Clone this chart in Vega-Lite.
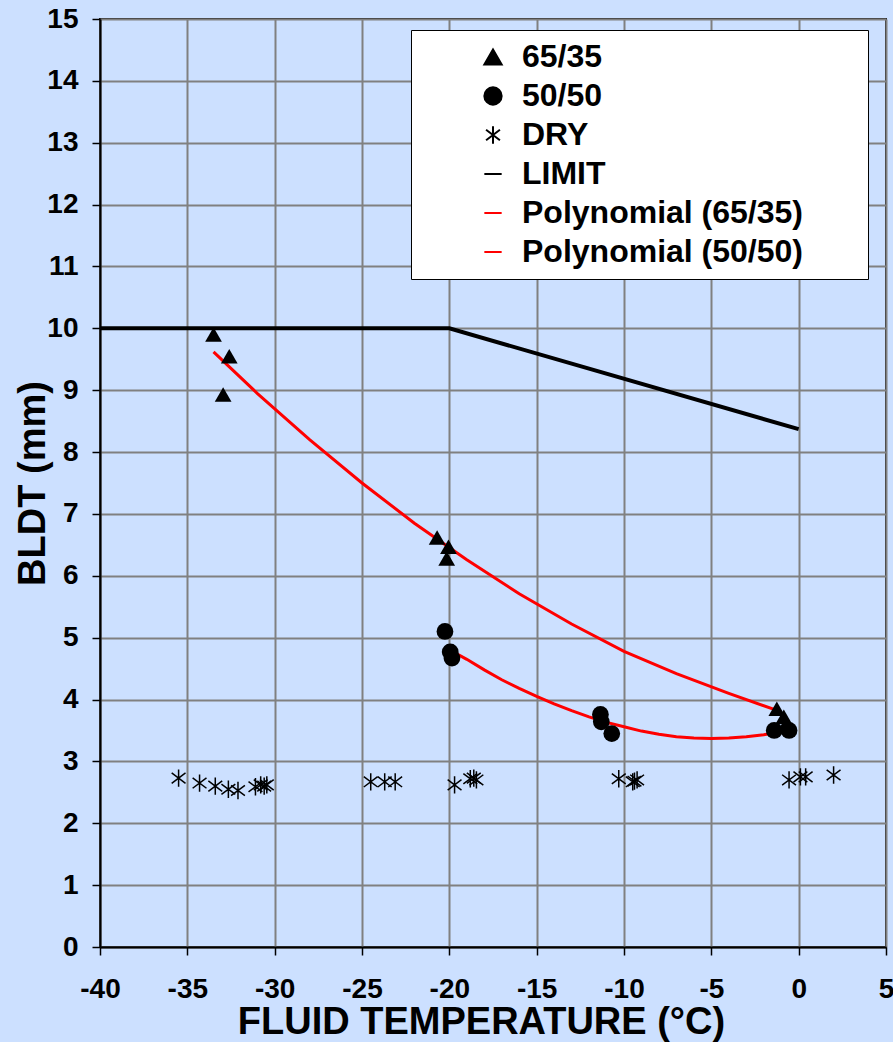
{
  "$schema": "https://vega.github.io/schema/vega-lite/v6.json",
  "width": 786,
  "height": 928,
  "autosize": {"type": "none"},
  "padding": {"left": 100, "top": 19, "right": 7, "bottom": 95},
  "background": "#CCE0FF",
  "config": {
    "view": {"fill": "#CCE0FF", "stroke": "#1a1a1a", "strokeWidth": 2},
    "font": "Liberation Sans",
    "axis": {
      "labelFont": "Liberation Sans", "labelFontWeight": "bold", "labelFontSize": 28, "labelColor": "black",
      "titleFont": "Liberation Sans", "titleFontWeight": "bold", "titleFontSize": 38, "titleColor": "black",
      "gridColor": "#808080", "gridWidth": 2, "gridOpacity": 1,
      "domainColor": "black", "domainWidth": 2,
      "tickColor": "black", "tickWidth": 1.5, "tickSize": 8
    },
    "legend": {
      "orient": "none",
      "legendX": 311,
      "legendY": 11,
      "fillColor": "white",
      "strokeColor": "black",
      "padding": 11,
      "symbolOffset": 55,
      "symbolSize": 300,
      "symbolStrokeWidth": 2,
      "rowPadding": 7,
      "labelOffset": 13,
      "labelFont": "Liberation Sans",
      "labelFontSize": 32,
      "labelFontWeight": "bold",
      "labelColor": "black",
      "labelLimit": 700
    }
  },
  "data": {"values": [
      {"series": "65/35", "t": -33.5, "v": 9.9},
      {"series": "65/35", "t": -32.6, "v": 9.55},
      {"series": "65/35", "t": -32.95, "v": 8.93},
      {"series": "65/35", "t": -20.7, "v": 6.62},
      {"series": "65/35", "t": -20.05, "v": 6.47},
      {"series": "65/35", "t": -20.15, "v": 6.28},
      {"series": "65/35", "t": -1.25, "v": 3.85},
      {"series": "65/35", "t": -0.85, "v": 3.72},
      {"series": "65/35", "t": -0.7, "v": 3.62},
      {"series": "50/50", "t": -20.25, "v": 5.1},
      {"series": "50/50", "t": -19.95, "v": 4.77},
      {"series": "50/50", "t": -19.85, "v": 4.67},
      {"series": "50/50", "t": -11.35, "v": 3.76},
      {"series": "50/50", "t": -11.3, "v": 3.64},
      {"series": "50/50", "t": -10.7, "v": 3.45},
      {"series": "50/50", "t": -1.4, "v": 3.5},
      {"series": "50/50", "t": -0.55, "v": 3.5},
      {"series": "DRY", "t": -35.5, "v": 2.73},
      {"series": "DRY", "t": -34.3, "v": 2.65},
      {"series": "DRY", "t": -33.4, "v": 2.6},
      {"series": "DRY", "t": -32.65, "v": 2.55},
      {"series": "DRY", "t": -32.1, "v": 2.53},
      {"series": "DRY", "t": -31.1, "v": 2.59},
      {"series": "DRY", "t": -30.8, "v": 2.62},
      {"series": "DRY", "t": -30.6, "v": 2.6},
      {"series": "DRY", "t": -30.45, "v": 2.62},
      {"series": "DRY", "t": -24.5, "v": 2.67},
      {"series": "DRY", "t": -23.7, "v": 2.67},
      {"series": "DRY", "t": -23.1, "v": 2.67},
      {"series": "DRY", "t": -19.7, "v": 2.62},
      {"series": "DRY", "t": -18.8, "v": 2.72},
      {"series": "DRY", "t": -18.6, "v": 2.73},
      {"series": "DRY", "t": -18.45, "v": 2.7},
      {"series": "DRY", "t": -10.3, "v": 2.72},
      {"series": "DRY", "t": -9.5, "v": 2.67},
      {"series": "DRY", "t": -9.4, "v": 2.68},
      {"series": "DRY", "t": -9.25, "v": 2.7},
      {"series": "DRY", "t": -0.55, "v": 2.7},
      {"series": "DRY", "t": 0.1, "v": 2.75},
      {"series": "DRY", "t": 0.4, "v": 2.75},
      {"series": "DRY", "t": 2.0, "v": 2.78},
      {"series": "LIMIT", "t": -40, "v": 10},
      {"series": "LIMIT", "t": -20, "v": 10},
      {"series": "LIMIT", "t": 0, "v": 8.37},
      {"series": "Polynomial (65/35)", "t": -33.5, "v": 9.62},
      {"series": "Polynomial (65/35)", "t": -31, "v": 8.95},
      {"series": "Polynomial (65/35)", "t": -28, "v": 8.2},
      {"series": "Polynomial (65/35)", "t": -25, "v": 7.5},
      {"series": "Polynomial (65/35)", "t": -22, "v": 6.85},
      {"series": "Polynomial (65/35)", "t": -19, "v": 6.26},
      {"series": "Polynomial (65/35)", "t": -16, "v": 5.71},
      {"series": "Polynomial (65/35)", "t": -13, "v": 5.22},
      {"series": "Polynomial (65/35)", "t": -10, "v": 4.78},
      {"series": "Polynomial (65/35)", "t": -7, "v": 4.42},
      {"series": "Polynomial (65/35)", "t": -4, "v": 4.1},
      {"series": "Polynomial (65/35)", "t": -1, "v": 3.8},
      {"series": "Polynomial (50/50)", "t": -20.1, "v": 4.82},
      {"series": "Polynomial (50/50)", "t": -19, "v": 4.65},
      {"series": "Polynomial (50/50)", "t": -18, "v": 4.48},
      {"series": "Polynomial (50/50)", "t": -17, "v": 4.32},
      {"series": "Polynomial (50/50)", "t": -16, "v": 4.18},
      {"series": "Polynomial (50/50)", "t": -15, "v": 4.05},
      {"series": "Polynomial (50/50)", "t": -14, "v": 3.93},
      {"series": "Polynomial (50/50)", "t": -13, "v": 3.82},
      {"series": "Polynomial (50/50)", "t": -12, "v": 3.72},
      {"series": "Polynomial (50/50)", "t": -11, "v": 3.63},
      {"series": "Polynomial (50/50)", "t": -10, "v": 3.56},
      {"series": "Polynomial (50/50)", "t": -9, "v": 3.49},
      {"series": "Polynomial (50/50)", "t": -8, "v": 3.44},
      {"series": "Polynomial (50/50)", "t": -7, "v": 3.4},
      {"series": "Polynomial (50/50)", "t": -6, "v": 3.38},
      {"series": "Polynomial (50/50)", "t": -5, "v": 3.37},
      {"series": "Polynomial (50/50)", "t": -4, "v": 3.38},
      {"series": "Polynomial (50/50)", "t": -3, "v": 3.4},
      {"series": "Polynomial (50/50)", "t": -2, "v": 3.43},
      {"series": "Polynomial (50/50)", "t": -1, "v": 3.48},
      {"series": "Polynomial (50/50)", "t": -0.6, "v": 3.52}
  ]},
  "encoding": {
    "x": {
      "field": "t", "type": "quantitative",
      "scale": {"domain": [-40, 5], "nice": false, "zero": false},
      "axis": {"values": [-40, -35, -30, -25, -20, -15, -10, -5, 0, 5], "labelExpr": "replace(datum.label, '−', '-')", "labelFlush": false, "labelPadding": 20, "title": "FLUID TEMPERATURE (°C)", "titlePadding": 0, "titleX": 381}
    },
    "y": {
      "field": "v", "type": "quantitative",
      "scale": {"domain": [0, 15], "nice": false},
      "axis": {"values": [0,1,2,3,4,5,6,7,8,9,10,11,12,13,14,15], "labelFlush": false, "labelPadding": 14, "title": "BLDT (mm)", "titlePadding": -6}
    },
    "color": {
      "field": "series", "type": "nominal",
      "scale": {
        "domain": ["65/35", "50/50", "DRY", "LIMIT", "Polynomial (65/35)", "Polynomial (50/50)"],
        "range": ["black", "black", "black", "black", "#FF0000", "#FF0000"]
      },
      "legend": {
        "title": null,
        "labelExpr": "datum.label + '\u00a0\u00a0\u00a0\u00a0\u00a0\u00a0\u200b'"
      }
    }
  },
  "layer": [
    {
      "transform": [{"filter": "datum.series === 'LIMIT'"}],
      "mark": {"type": "line", "strokeWidth": 4}
    },
    {
      "transform": [{"filter": "datum.series === 'Polynomial (65/35)' || datum.series === 'Polynomial (50/50)'"}],
      "mark": {"type": "line", "strokeWidth": 3}
    },
    {
      "transform": [{"filter": "datum.series === '65/35' || datum.series === '50/50'"}],
      "mark": {"type": "point", "filled": true, "size": 280, "opacity": 1},
      "encoding": {
        "shape": {
          "field": "series", "type": "nominal",
          "scale": {
            "domain": ["65/35", "50/50", "DRY", "LIMIT", "Polynomial (65/35)", "Polynomial (50/50)"],
            "range": ["triangle-up", "circle", "M0,-1V1M-0.8,-0.6L0.8,0.6M-0.8,0.6L0.8,-0.6", "stroke", "stroke", "stroke"]
          },
          "legend": {
            "title": null,
            "labelExpr": "datum.label + '\u00a0\u00a0\u00a0\u00a0\u00a0\u00a0\u200b'"
          }
        }
      }
    },
    {
      "transform": [{"filter": "datum.series === 'DRY'"}],
      "mark": {"type": "point", "shape": "M0,-1V1M-0.8,-0.6L0.8,0.6M-0.8,0.6L0.8,-0.6", "filled": false, "size": 300, "strokeWidth": 1.5, "opacity": 1}
    }
  ]
}
